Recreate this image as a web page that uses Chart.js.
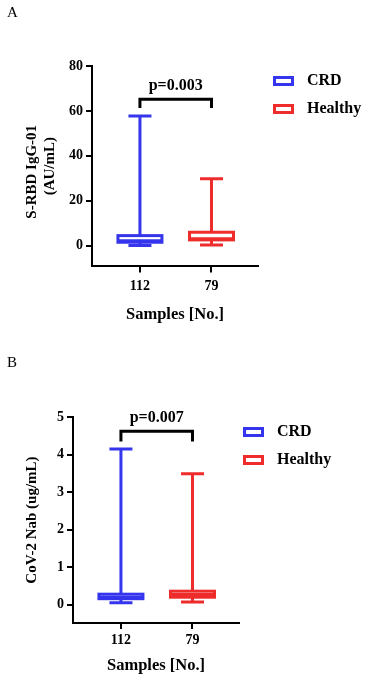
<!DOCTYPE html>
<html>
<head>
<meta charset="utf-8">
<script src="https://cdn.jsdelivr.net/npm/chart.js"></script>
<style>
    body { margin: 0; background: #fff; }
    .panel { position: relative; width: 368px; }
    .tag { position: absolute; left: 7px; font: 15px 'Liberation Serif', serif; line-height: 15px; color: #000; }
    canvas { display: block; }
</style>
</head>
<body>
<div class="panel" style="height:333px">
    <div class="tag" style="top:5px">A</div>
    <canvas id="chartA" width="368" height="333"></canvas>
</div>
<div class="panel" style="height:347px">
    <div class="tag" style="top:22px">B</div>
    <canvas id="chartB" width="368" height="347"></canvas>
</div>
<script>
    // groups and x tick labels (sample counts)
    var groups = ['CRD', 'Healthy'];
    var sampleCounts = ['112', '79'];
    var groupColors = ['#3535ee', '#ee2c2c'];

    // panel A - S-RBD IgG-01 (AU/mL)
    var minA = [0.1, 0.3];
    var q1A = [1.55, 2.6];
    var medA = [2.2, 3.1];
    var q3A = [4.5, 6.0];
    var maxA = [57.8, 29.8];
    var yTicksA = [0, 20, 40, 60, 80];
    var pA = 'p=0.003';

    // panel B - CoV-2 Nab (ug/mL)
    var minB = [0.05, 0.07];
    var q1B = [0.16, 0.2];
    var medB = [0.2, 0.27];
    var q3B = [0.28, 0.36];
    var maxB = [4.15, 3.49];
    var yTicksB = [0, 1, 2, 3, 4, 5];
    var pB = 'p=0.007';

    var serif = "'Liberation Serif', 'Times New Roman', serif";

    // draws box + whiskers, the p-value bracket and the legend
    var boxPlot = {
        id: 'boxPlot',
        afterDatasetsDraw: function (chart, args, opts) {
            var ctx = chart.ctx;
            var x = chart.scales.x, y = chart.scales.y;
            var area = chart.chartArea;
            ctx.save();
            ctx.lineWidth = 3;
            ctx.lineCap = 'butt';
            for (var i = 0; i < groups.length; i++) {
                var cx = x.getPixelForValue(i);
                var top = y.getPixelForValue(opts.q3[i]);
                var bot = y.getPixelForValue(opts.q1[i]);
                var hi = y.getPixelForValue(opts.max[i]);
                var lo = y.getPixelForValue(opts.min[i]);
                var bw = opts.boxWidth, cw = opts.capWidth;
                ctx.strokeStyle = groupColors[i];
                ctx.beginPath();
                ctx.moveTo(cx, hi); ctx.lineTo(cx, top);
                ctx.moveTo(cx, bot); ctx.lineTo(cx, lo);
                ctx.moveTo(cx - cw / 2, hi); ctx.lineTo(cx + cw / 2, hi);
                ctx.moveTo(cx - cw / 2, lo); ctx.lineTo(cx + cw / 2, lo);
                ctx.stroke();
                ctx.fillStyle = '#fff';
                ctx.fillRect(cx - bw / 2, top, bw, bot - top);
                ctx.strokeRect(cx - bw / 2, top, bw, bot - top);
                var med = y.getPixelForValue(opts.med[i]);
                ctx.beginPath();
                ctx.moveTo(cx - bw / 2, med); ctx.lineTo(cx + bw / 2, med);
                ctx.stroke();
            }

            // significance bracket
            var x0 = x.getPixelForValue(0), x1 = x.getPixelForValue(1);
            var by = y.getPixelForValue(opts.bracket[0]);
            var bl = y.getPixelForValue(opts.bracket[1]);
            ctx.strokeStyle = '#000';
            ctx.lineJoin = 'miter';
            ctx.beginPath();
            ctx.moveTo(x0, bl); ctx.lineTo(x0, by); ctx.lineTo(x1, by); ctx.lineTo(x1, bl);
            ctx.stroke();
            ctx.fillStyle = '#000';
            ctx.font = 'bold 16px ' + serif;
            ctx.textAlign = 'center';
            ctx.textBaseline = 'middle';
            ctx.fillText(opts.pText, (x0 + x1) / 2, by - 13.5);

            // legend
            ctx.textAlign = 'left';
            for (var j = 0; j < groups.length; j++) {
                var lx = area.right + opts.legendX;
                var ly = area.top + 15 + j * 28;
                ctx.strokeStyle = groupColors[j];
                ctx.strokeRect(lx + 1.5, ly - 3.5, 18, 7);
                ctx.fillStyle = '#000';
                ctx.fillText(groups[j], lx + 34, ly);
            }
            ctx.restore();
        }
    };

    function axisX(tickPad, titlePad) {
        return {
            type: 'linear',
            min: -0.67,
            max: 1.65,
            afterBuildTicks: function (ax) { ax.ticks = [0, 1].map(function (v) { return { value: v }; }); },
            ticks: {
                color: '#000',
                padding: tickPad,
                font: { family: serif, size: 14, weight: 'bold' },
                callback: function (v) { return sampleCounts[v]; }
            },
            grid: { drawOnChartArea: false, drawTicks: true, tickLength: 6, color: '#000', lineWidth: 2 },
            border: { color: '#000', width: 2 },
            title: {
                display: true,
                text: 'Samples [No.]',
                color: '#000',
                font: { family: serif, size: 16.5, weight: 'bold' },
                padding: { top: titlePad, bottom: 4 }
            }
        };
    }

    function axisY(min, max, ticks, title, titlePad) {
        return {
            min: min,
            max: max,
            afterBuildTicks: function (ax) { ax.ticks = ticks.map(function (v) { return { value: v }; }); },
            ticks: { color: '#000', padding: 3, font: { family: serif, size: 14, weight: 'bold' } },
            grid: { drawOnChartArea: false, drawTicks: true, tickLength: 6, color: '#000', lineWidth: 2 },
            border: { color: '#000', width: 2 },
            title: {
                display: true,
                text: title,
                color: '#000',
                font: { family: serif, size: 15, weight: 'bold' },
                padding: titlePad
            }
        };
    }

    var chartA = new Chart(document.getElementById('chartA'), {
        type: 'scatter',
        data: { datasets: [] },
        options: {
            responsive: false,
            animation: false,
            layout: { padding: { top: 66, left: 19, right: 110, bottom: 4 } },
            plugins: {
                legend: { display: false },
                tooltip: { enabled: false },
                boxPlot: {
                    min: minA, q1: q1A, med: medA, q3: q3A, max: maxA,
                    boxWidth: 44, capWidth: 23,
                    bracket: [65.2, 61.3], pText: pA, legendX: 15
                }
            },
            scales: {
                x: axisX(6, 4),
                y: axisY(-9.2, 80, yTicksA, ['S-RBD IgG-01   ', '(AU/mL)'], { top: 4, bottom: 7 })
            }
        },
        plugins: [boxPlot]
    });

    var chartB = new Chart(document.getElementById('chartB'), {
        type: 'scatter',
        data: { datasets: [] },
        options: {
            responsive: false,
            animation: false,
            layout: { padding: { top: 84, left: 19, right: 129, bottom: 0 } },
            plugins: {
                legend: { display: false },
                tooltip: { enabled: false },
                boxPlot: {
                    min: minB, q1: q1B, med: medB, q3: q3B, max: maxB,
                    boxWidth: 44, capWidth: 23,
                    bracket: [4.62, 4.35], pText: pB, legendX: 4
                }
            },
            scales: {
                x: axisX(3, 4.3),
                y: axisY(-0.49, 5, yTicksB, 'CoV-2 Nab (ug/mL)', { top: 4, bottom: 13 })
            }
        },
        plugins: [boxPlot]
    });
</script>
</body>
</html>
